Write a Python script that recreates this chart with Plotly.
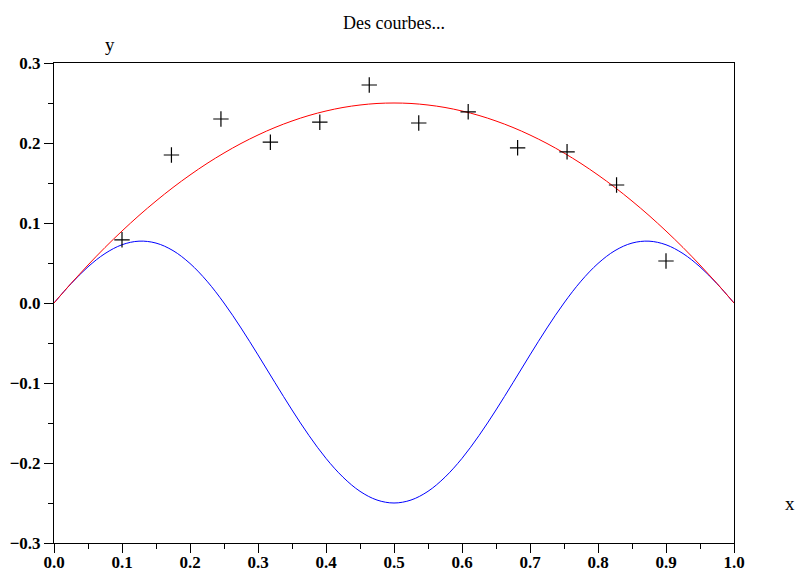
import plotly.graph_objects as go

# Curve samples (x step 0.025)
x_curve = [i * 0.025 for i in range(41)]
red_half = [0.0, 0.0244, 0.0475, 0.0694, 0.09, 0.1094, 0.1275, 0.1444, 0.16, 0.1744,
            0.1875, 0.1994, 0.21, 0.2194, 0.2275, 0.2344, 0.24, 0.2444, 0.2475, 0.2494, 0.25]
blue_half = [0.0, 0.0241, 0.0452, 0.0618, 0.0728, 0.0773, 0.0749, 0.0655, 0.0494, 0.0273,
             0.0, -0.0312, -0.0649, -0.0996, -0.1337, -0.1657, -0.1942, -0.2177, -0.2354, -0.2463, -0.25]
red_vals = red_half + red_half[-2::-1]
blue_vals = blue_half + blue_half[-2::-1]

# Scattered "+" points
x_pts = [0.1, 0.1727, 0.2455, 0.3182, 0.3909, 0.4636, 0.5364, 0.6091, 0.6818, 0.7545, 0.8273, 0.9]
y_pts = [0.079, 0.185, 0.230, 0.201, 0.226, 0.2725, 0.225, 0.239, 0.194, 0.189, 0.1475, 0.0525]

tick_vals_x = [0.0, 0.1, 0.2, 0.3, 0.4, 0.5, 0.6, 0.7, 0.8, 0.9, 1.0]
tick_text_x = ["0.0", "0.1", "0.2", "0.3", "0.4", "0.5", "0.6", "0.7", "0.8", "0.9", "1.0"]
tick_vals_y = [-0.3, -0.2, -0.1, 0.0, 0.1, 0.2, 0.3]
tick_text_y = ["\u22120.3", "\u22120.2", "\u22120.1", "0.0", "0.1", "0.2", "0.3"]

FONT = "Liberation Serif"

fig = go.Figure()
fig.add_trace(go.Scatter(x=x_curve, y=blue_vals, mode="lines", line=dict(color="#0000ff", width=1, shape="spline")))
fig.add_trace(go.Scatter(x=x_curve, y=red_vals, mode="lines", line=dict(color="#ff0000", width=1, shape="spline")))
fig.add_trace(go.Scatter(x=x_pts, y=y_pts, mode="markers",
                         marker=dict(symbol="cross-thin", size=11, line=dict(color="black", width=1.2))))

axis_common = dict(showgrid=False, zeroline=False, showline=True, linecolor="black", linewidth=1,
                   mirror=True, ticks="outside", ticklen=9, tickwidth=1, tickcolor="black",
                   automargin=False,
                   tickfont=dict(family=FONT, size=17, color="black", weight="bold"))

fig.update_xaxes(range=[0, 1], tickmode="array", tickvals=tick_vals_x, ticktext=tick_text_x,
                 ticklabelstandoff=-5,
                 minor=dict(tickvals=[0.05 + 0.1 * i for i in range(10)], ticklen=5, tickcolor="black", ticks="outside"),
                 **axis_common)
fig.update_yaxes(range=[-0.3, 0.3], tickmode="array", tickvals=tick_vals_y, ticktext=tick_text_y,
                 minor=dict(tickvals=[-0.25, -0.15, -0.05, 0.05, 0.15, 0.25], ticklen=5, tickcolor="black", ticks="outside"),
                 **axis_common)

fig.update_layout(
    width=798, height=575,
    margin=dict(l=54, r=64, t=63, b=32),
    plot_bgcolor="white", paper_bgcolor="white",
    showlegend=False,
    font=dict(family=FONT, color="black"),
    annotations=[
        dict(text="Des courbes...", xref="paper", yref="paper", x=0.5, y=1 + (63 - 23) / 480,
             xanchor="center", yanchor="middle", showarrow=False, font=dict(family=FONT, size=18)),
        dict(text="y", xref="paper", yref="paper", x=(110 - 54) / 680, y=1 + (63 - 44) / 480,
             xanchor="center", yanchor="middle", showarrow=False, font=dict(family=FONT, size=19)),
        dict(text="x", xref="paper", yref="paper", x=(790 - 54) / 680, y=(543 - 503) / 480,
             xanchor="center", yanchor="middle", showarrow=False, font=dict(family=FONT, size=19)),
    ],
)

fig.write_html("out.html", config={"displayModeBar": False},
               post_script="document.body.style.margin='0';document.body.style.overflow='hidden';")
